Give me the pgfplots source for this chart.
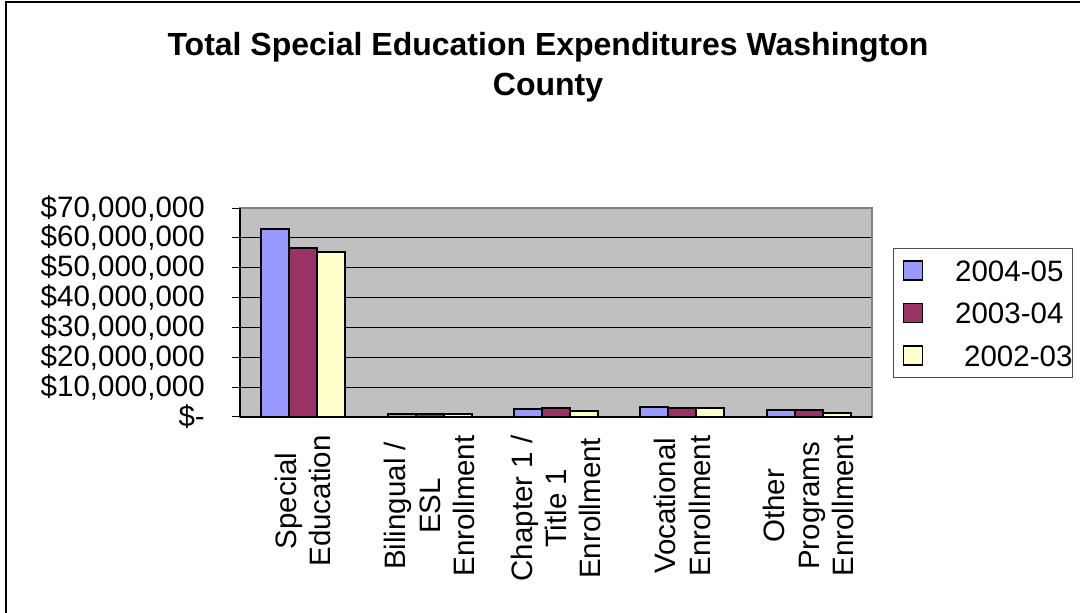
\documentclass[border=0pt]{standalone}
\usepackage{pgfplots}
\pgfplotsset{compat=1.18}
\usepackage{fontspec}
\setmainfont{Liberation Sans}
\definecolor{sblue}{HTML}{9999FF}
\definecolor{sred}{HTML}{993366}
\definecolor{syel}{HTML}{FFFFCC}
\definecolor{pgray}{HTML}{C0C0C0}
\definecolor{bgray}{HTML}{808080}
\begin{document}
\begin{tikzpicture}
\clip (0pt,0pt) rectangle (540pt,306.5pt);
\fill[white] (0pt,0pt) rectangle (540pt,306.5pt);
\draw[line width=1pt] (3pt,-10pt) rectangle (560pt,305.5pt);
\node[font=\bfseries\fontsize{16}{20}\selectfont, align=center] at (274pt,273pt)
  {Total Special Education Expenditures Washington\\County};
\begin{axis}[
  at={(120pt,98pt)}, anchor=south west,
  scale only axis, width=316pt, height=104.5pt,
  xmin=-0.5, xmax=4.5, ymin=0, ymax=70000000,
  scaled y ticks=false,
  axis background/.style={fill=pgray},
  axis line style={draw=bgray, line width=1pt},
  ybar, bar width=14pt,
  xtick={0,1,2,3,4},
  xticklabels={{Special\\Education},{Bilingual /\\ESL\\Enrollment},{Chapter 1 /\\Title 1\\Enrollment},{Vocational\\Enrollment},{Other\\Programs\\Enrollment}},
  x tick style={draw=none},
  extra x ticks={-0.5,0.5,1.5,2.5,3.5,4.5},
  extra x tick labels={},
  extra x tick style={tick style={draw=black, line width=0.5pt}, grid=none},
  xtick pos=bottom, ytick pos=left,
  ytick={0,10000000,20000000,30000000,40000000,50000000,60000000,70000000},
  yticklabels={\$-,{\$10,000,000},{\$20,000,000},{\$30,000,000},{\$40,000,000},{\$50,000,000},{\$60,000,000},{\$70,000,000}},
  y tick style={draw=black, line width=0.5pt},
  tick align=outside, major tick length=4pt,
  ymajorgrids, grid style={draw=black, line width=0.5pt},
  yticklabel style={font=\fontsize{14.75}{16}\selectfont, anchor=east, inner sep=0pt, xshift=-13.4pt},
  xticklabel style={font=\fontsize{14.75}{17.2}\selectfont, yshift=-5pt, rotate=90, anchor=east, align=center, inner sep=0pt},
  /pgf/number format/assume math mode=true,
  legend style={at={(1.0332,0.8086)}, anchor=north west, draw=black!70, line width=0.5pt, fill=white,
    inner xsep=0pt, inner ysep=5.7pt, row sep=10.65pt, column sep=16pt,
    nodes={inner sep=0pt, text height=10.6pt, text depth=0pt, font=\fontsize{14.75}{16}\selectfont}},
  legend cell align=left,
  legend image code/.code={\path (0pt,0pt); \draw[#1, line width=0.7pt] (4.5pt,-4.75pt) rectangle (14pt,4.75pt);},
  after end axis/.code={\draw[black, line width=0.6pt] (rel axis cs:0,0) -- (rel axis cs:0,1); \draw[black, line width=0.6pt] (rel axis cs:0,0) -- (rel axis cs:1,0);},
]
\addplot[fill=sblue, draw=black, line width=1pt, bar shift=-14pt] coordinates {(0,63100000) (1,1100000) (2,2600000) (3,3300000) (4,2200000)};
\addplot[fill=sred, draw=black, line width=1pt, bar shift=0pt] coordinates {(0,56600000) (1,900000) (2,2900000) (3,3100000) (4,2500000)};
\addplot[fill=syel, draw=black, line width=1pt, bar shift=14pt] coordinates {(0,55200000) (1,1000000) (2,2000000) (3,3000000) (4,1300000)};
\legend{2004-05\hspace{30pt},2003-04\hspace{30pt},\hspace*{4.5pt}2002-03\hspace{30pt}}
\end{axis}
\end{tikzpicture}
\end{document}
